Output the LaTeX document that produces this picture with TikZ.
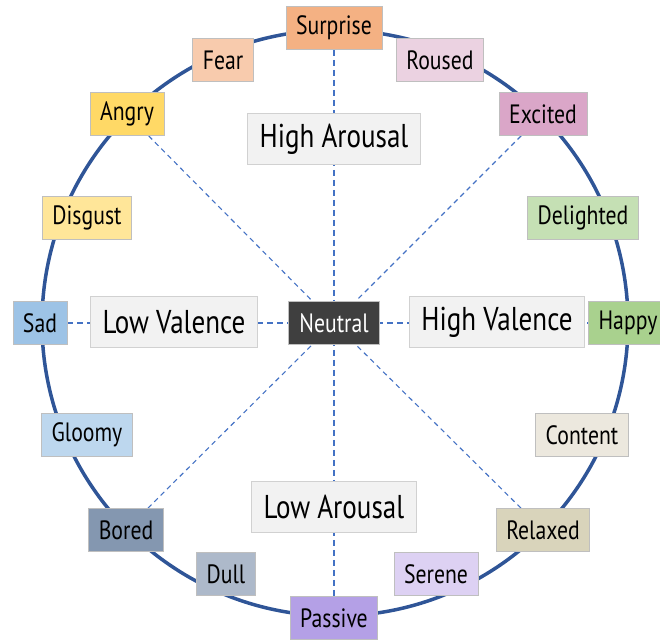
\documentclass[tikz,border=0pt]{standalone}
\usepackage{fontspec}
\setmainfont{PT Sans}[FakeStretch=0.82]
\usepackage{tikz}
\usetikzlibrary{backgrounds}

\definecolor{ringblue}{HTML}{2F5597}
\definecolor{dashblue}{HTML}{4472C4}
\definecolor{cSurprise}{HTML}{F4B183}
\definecolor{cFear}{HTML}{F8CBAD}
\definecolor{cRoused}{HTML}{EBD2E1}
\definecolor{cExcited}{HTML}{DAA6C8}
\definecolor{cAngry}{HTML}{FFD966}
\definecolor{cDisgust}{HTML}{FFE699}
\definecolor{cDelighted}{HTML}{C5E0B4}
\definecolor{cHappy}{HTML}{A9D18E}
\definecolor{cSad}{HTML}{9DC3E6}
\definecolor{cGloomy}{HTML}{BDD7EE}
\definecolor{cContent}{HTML}{ECE8DE}
\definecolor{cRelaxed}{HTML}{D9D4BB}
\definecolor{cBored}{HTML}{8497B0}
\definecolor{cDull}{HTML}{ADB9CA}
\definecolor{cSerene}{HTML}{DDD1F3}
\definecolor{cPassive}{HTML}{B4A0E6}
\definecolor{cNeutral}{HTML}{3F3F3F}

\begin{document}
\begin{tikzpicture}[x=1pt, y=-1pt,
    emo/.style={draw=black!25, line width=0.7pt, minimum height=43pt,
                inner xsep=10pt, font=\fontsize{26.5}{31}\selectfont},
    axisbox/.style={draw=black!18, line width=0.7pt, fill=black!5,
                minimum height=51pt, inner xsep=12pt,
                font=\fontsize{33}{39}\selectfont},
    axisline/.style={dashblue, line width=1.8pt, dash pattern=on 6pt off 4pt},
    diagline/.style={dashblue, line width=1.1pt, dash pattern=on 5pt off 4pt}]
  \useasboundingbox (0,0) rectangle (660,639);

  % centre and axis labels
  \node (neutral) [emo, fill=cNeutral, text=white, minimum width=91pt]
    at (334,323) {Neutral};
  \node (higharousal) [axisbox] at (334,139) {High Arousal};
  \node (lowarousal)  [axisbox] at (334,507) {Low Arousal};
  \node (lowvalence)  [axisbox] at (174,322) {Low Valence};
  \node (highvalence) [axisbox] at (497,322) {High Valence};

  % emotions round the ring
  \node (surprise)  [emo, fill=cSurprise]  at (334,28)  {Surprise};
  \node (fear)      [emo, fill=cFear]      at (223,60)  {Fear};
  \node (roused)    [emo, fill=cRoused]    at (440,60)  {Roused};
  \node (angry)     [emo, fill=cAngry]     at (127,114) {Angry};
  \node (excited)   [emo, fill=cExcited]   at (543,114) {Excited};
  \node (disgust)   [emo, fill=cDisgust]   at (87,218)  {Disgust};
  \node (delighted) [emo, fill=cDelighted] at (583,218) {Delighted};
  \node (sad)       [emo, fill=cSad]       at (40,323)  {Sad};
  \node (happy)     [emo, fill=cHappy]     at (628,323) {Happy};
  \node (gloomy)    [emo, fill=cGloomy]    at (87,435)  {Gloomy};
  \node (content)   [emo, fill=cContent]   at (582,435) {Content};
  \node (bored)     [emo, fill=cBored]     at (126,530) {Bored};
  \node (relaxed)   [emo, fill=cRelaxed]   at (543,530) {Relaxed};
  \node (dull)      [emo, fill=cDull]      at (226,574) {Dull};
  \node (serene)    [emo, fill=cSerene]    at (436,574) {Serene};
  \node (passive)   [emo, fill=cPassive]   at (334,618) {Passive};

  \begin{scope}[on background layer]
    \draw[ringblue, line width=3.5pt] (335,323) circle[radius=293pt];
    \draw[axisline] (surprise)--(passive);
    \draw[axisline] (sad)--(happy);
    \draw[diagline] (angry)--(neutral);
    \draw[diagline] (excited)--(neutral);
    \draw[diagline] (bored)--(neutral);
    \draw[diagline] (relaxed)--(neutral);
  \end{scope}
\end{tikzpicture}
\end{document}
